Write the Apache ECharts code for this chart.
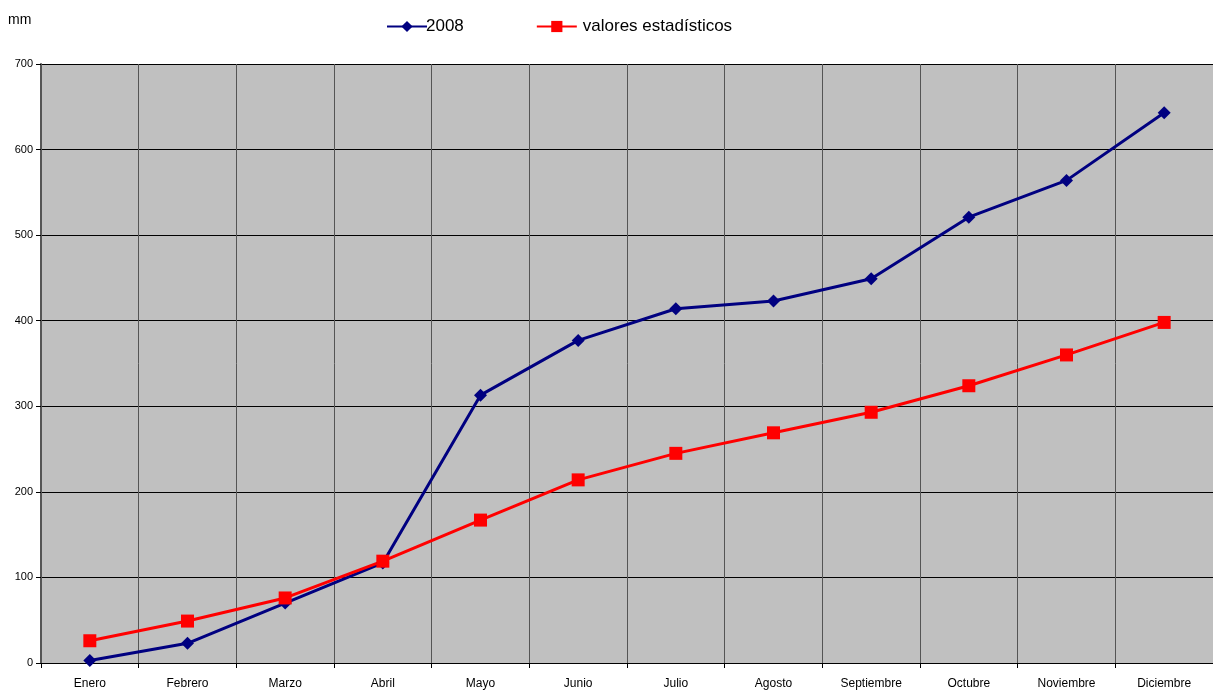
<!DOCTYPE html>
<html><head><meta charset="utf-8">
<script src="https://cdn.jsdelivr.net/npm/echarts@6/dist/echarts.min.js"></script>
<style>html,body{margin:0;padding:0;background:#fff}#c{width:1213px;height:697px}</style>
</head><body><div id="c"></div>
<script>
const categories = ['Enero','Febrero','Marzo','Abril','Mayo','Junio','Julio','Agosto','Septiembre','Octubre','Noviembre','Diciembre'];
const serie2008 = [3, 23, 70, 117, 313, 377, 414, 423, 449, 521, 564, 643];
const serieEstadisticos = [26, 49, 76, 119, 167, 214, 245, 269, 293, 324, 360, 398];
const yTicks = [0, 100, 200, 300, 400, 500, 600, 700];

const chart = echarts.init(document.getElementById('c'), null, {renderer: 'canvas'});
const font = 'Liberation Sans, Arial, sans-serif';
chart.setOption({
  animation: false,
  textStyle: {fontFamily: font},
  graphic: [{type: 'text', left: 8, top: 13, style: {text: 'mm', font: '14px ' + font, fill: '#000'}}],
  legend: {
    top: 13, left: 381, itemGap: 72, itemWidth: 40, itemHeight: 14,
    textStyle: {fontSize: 17, color: '#000', fontFamily: font},
    data: [
      {name: '2008', textStyle: {padding: [0,0,0,-6]}},
      {name: 'valores estadísticos', textStyle: {padding: [0,0,0,1]}}
    ]
  },
  grid: {left: 41, right: 0, top: 64, bottom: 34, show: true, backgroundColor: '#C0C0C0', borderWidth: 0},
  xAxis: {
    type: 'category', data: categories, boundaryGap: true,
    axisLine: {lineStyle: {color: '#000', width: 1}},
    axisTick: {show: true, length: 5, lineStyle: {color: '#000'}},
    splitLine: {show: true, lineStyle: {color: '#555', width: 1}},
    axisLabel: {color: '#000', fontSize: 12, margin: 15, fontFamily: font}
  },
  yAxis: {
    type: 'value', min: 0, max: 700, interval: 100,
    axisLine: {show: true, lineStyle: {color: '#555', width: 2}},
    axisTick: {show: true, length: 5, lineStyle: {color: '#000'}},
    splitLine: {show: true, lineStyle: {color: '#000', width: 1}},
    axisLabel: {color: '#000', fontSize: 11, margin: 8, fontFamily: font,
      formatter: v => yTicks.includes(v) ? String(v) : ''}
  },
  series: [
    {name: '2008', type: 'line', data: serie2008, symbol: 'diamond', symbolSize: 13,
     lineStyle: {color: '#000080', width: 3}, itemStyle: {color: '#000080'}},
    {name: 'valores estadísticos', type: 'line', data: serieEstadisticos, symbol: 'rect', symbolSize: 13,
     lineStyle: {color: '#FF0000', width: 3}, itemStyle: {color: '#FF0000'}}
  ]
});
</script></body></html>
